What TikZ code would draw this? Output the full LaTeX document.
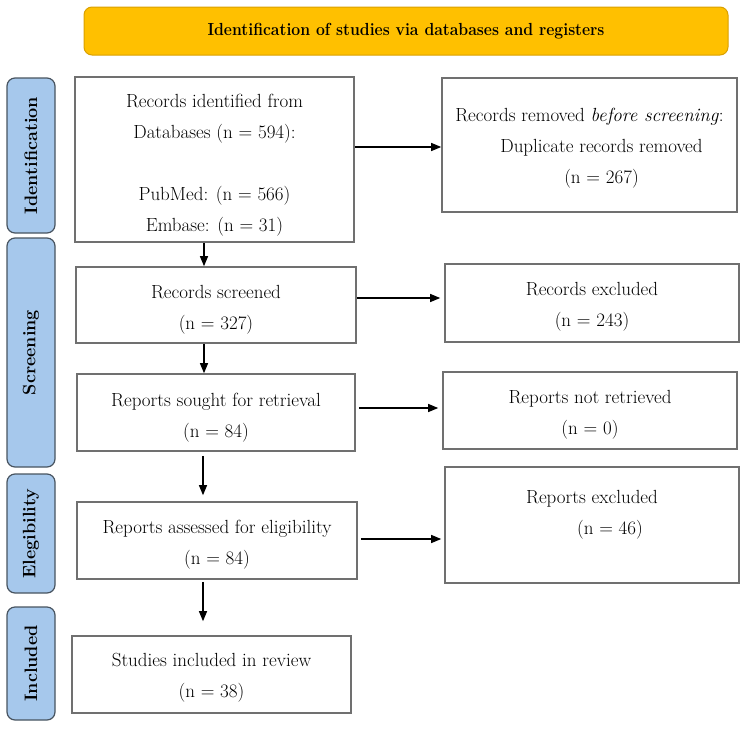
\documentclass[tikz,border=0pt]{standalone}
\usetikzlibrary{arrows.meta}
\definecolor{hdrfill}{HTML}{FFC000}
\definecolor{hdrdraw}{HTML}{D9A000}
\definecolor{sidefill}{HTML}{A6C8EC}
\definecolor{sidedraw}{HTML}{485460}
\definecolor{boxdraw}{HTML}{707070}
\begin{document}
\begin{tikzpicture}[x=1pt,y=-1pt,
  box/.style={draw=boxdraw, line width=1.6pt, inner sep=0pt},
  boxtext/.style={font=\fontsize{19}{31}\selectfont, align=center, inner sep=0pt},
  side/.style={draw=sidedraw, fill=sidefill, line width=1.2pt,
    rounded corners=8pt, rotate=90, minimum height=48pt,
    font=\bfseries\fontsize{18}{20}\selectfont, inner sep=0pt},
  arr/.style={-{Triangle[length=10pt,width=8pt]}, line width=1.2pt, black},
]
\useasboundingbox (0,0) rectangle (746,728);
% header
\node[draw=hdrdraw, fill=hdrfill, rounded corners=8pt, line width=1pt,
  minimum width=644pt, minimum height=48pt, inner sep=0pt,
  font=\bfseries\fontsize{17.5}{20}\selectfont] (hdr) at (406,31)
  {\scalebox{0.9}[1]{Identification of studies via databases and registers}};
% side labels
\node[side, minimum width=155pt] (sid) at (31,155.5) {Identification};
\node[side, minimum width=229pt] (ssc) at (31,352.5) {Screening};
\node[side, minimum width=119pt] (sel) at (31,533.5) {Elegibility};
\node[side, minimum width=113pt] (sin) at (31,663.5) {Included};
% left boxes
\node[box, minimum width=279pt, minimum height=165pt,
  label={[boxtext, yshift=-6pt]center:{Records identified from\\Databases (n = 594):\\[31pt]PubMed: (n = 566)\\Embase: (n = 31)}}] (b1) at (214.5,159.5) {};
\node[box, minimum width=280pt, minimum height=76pt,
  label={[boxtext, yshift=-5pt]center:{Records screened\\(n = 327)}}] (b2) at (216,305) {};
\node[box, minimum width=278pt, minimum height=77pt,
  label={[boxtext, yshift=-5pt]center:{Reports sought for retrieval\\(n = 84)}}] (b3) at (216,412.5) {};
\node[box, minimum width=280pt, minimum height=77pt,
  label={[boxtext, yshift=-4pt]center:{Reports assessed for eligibility\\(n = 84)}}] (b4) at (217,540.5) {};
\node[box, minimum width=279pt, minimum height=77pt,
  label={[boxtext, yshift=-3pt]center:{Studies included in review\\(n = 38)}}] (b5) at (211.5,674.5) {};
% right boxes
\node[box, minimum width=295pt, minimum height=134pt,
  label={[boxtext, yshift=-3pt]center:{Records removed \textit{before screening}:\\\hspace*{24pt}Duplicate records removed\\\hspace*{24pt}(n = 267)}}] (r1) at (589.5,145) {};
\node[box, minimum width=294pt, minimum height=78pt,
  label={[boxtext, yshift=-4pt]center:{Records excluded\\(n = 243)}}] (r2) at (592,303) {};
\node[box, minimum width=294pt, minimum height=77pt,
  label={[boxtext, yshift=-4pt]center:{Reports not retrieved\\(n = 0)}}] (r3) at (590,410.5) {};
\node[box, minimum width=294pt, minimum height=116pt,
  label={[boxtext, yshift=10pt]center:{Reports excluded\\\hspace*{36pt}(n = 46)}}] (r4) at (592,525) {};
% vertical arrows
\coordinate (vx) at (204,0);
\coordinate (vy) at (203,0);
\draw[arr] (b1.south -| vx) -- (b2.north -| vx);
\draw[arr] (b2.south -| vx) -- (b3.north -| vx);
\draw[arr, shorten <=4pt, shorten >=6pt] (b3.south -| vy) -- (b4.north -| vy);
\draw[arr, shorten <=2pt, shorten >=14pt] (b4.south -| vy) -- (b5.north -| vy);
% horizontal arrows
\draw[arr] ([yshift=-2pt]r1.west -| b1.east) -- ([yshift=-2pt]r1.west);
\draw[arr, shorten >=4pt] ([yshift=5pt]r2.west -| b2.east) -- ([yshift=5pt]r2.west);
\draw[arr, shorten <=3pt, shorten >=4pt] ([yshift=2.5pt]r3.west -| b3.east) -- ([yshift=2.5pt]r3.west);
\draw[arr, shorten <=3pt, shorten >=3pt] ([yshift=-14pt]r4.west -| b4.east) -- ([yshift=-14pt]r4.west);
\end{tikzpicture}
\end{document}
